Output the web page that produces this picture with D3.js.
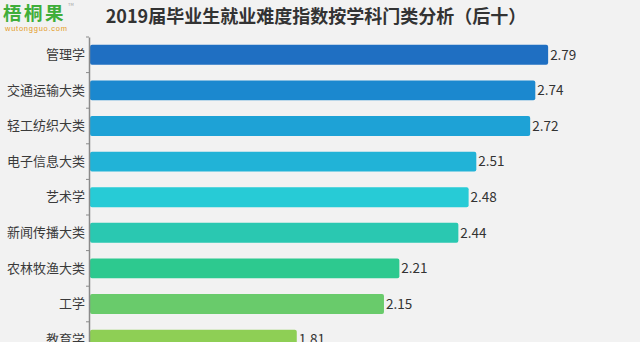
<!DOCTYPE html>
<html>
<head>
<meta charset="utf-8">
<script src="https://cdn.jsdelivr.net/npm/d3@7"></script>
<style>
  html, body { margin: 0; padding: 0; background: #f2f2f2; }
  svg { display: block; }
</style>
</head>
<body>
<svg id="chart" width="640" height="342"></svg>
<script>
// Graduate employment-difficulty index by discipline (bottom ten)
const categories = ["管理学", "交通运输大类", "轻工纺织大类", "电子信息大类", "艺术学", "新闻传播大类", "农林牧渔大类", "工学", "教育学"];
const values = [2.79, 2.74, 2.72, 2.51, 2.48, 2.44, 2.21, 2.15, 1.81];
const barColors = ["#1f6fc2", "#1b88cf", "#1ea2d6", "#21b3d7", "#27cbd6", "#2ac8b1", "#2dc98f", "#69cb6b", "#8ecf55"];

const W = 640, H = 342;
const svg = d3.select("#chart").attr("width", W).attr("height", H);
svg.append("rect").attr("width", W).attr("height", H).attr("fill", "#f2f2f2");

const font = "'Microsoft YaHei', 'Noto Sans CJK SC', sans-serif";

// Brand mark
const logo = svg.append("g");
logo.append("text").attr("x", 3).attr("y", 19.5)
  .attr("font-family", font).attr("font-weight", "bold").attr("font-size", 18.5)
  .attr("fill", "#3fae3a").attr("letter-spacing", 2.5).text("梧桐果");
logo.append("text").attr("x", 68).attr("y", 6)
  .attr("font-family", font).attr("font-size", 4).attr("fill", "#9a9a9a").text("TM");
logo.append("text").attr("x", 5).attr("y", 30.5)
  .attr("font-family", "Arial, 'Liberation Sans', sans-serif").attr("font-size", 7.5)
  .attr("fill", "#e49a22").attr("textLength", 62).text("wutongguo.com");

// Title
svg.append("text").attr("x", 316).attr("y", 23).attr("text-anchor", "middle")
  .attr("font-family", font).attr("font-weight", "bold").attr("font-size", 18)
  .attr("fill", "#333").text("2019届毕业生就业难度指数按学科门类分析（后十）");

// Scales
const x = d3.scaleLinear().domain([1, 3]).range([89, 602]);
const y = d3.scaleBand().domain(categories).range([37, 37 + 35.6 * categories.length]).paddingInner(0.44).paddingOuter(0.22);

// Bars
svg.append("g").selectAll("rect").data(categories).join("rect")
  .attr("x", x(1) + 1)
  .attr("y", d => y(d))
  .attr("width", (d, i) => x(values[i]) - x(1) - 1)
  .attr("height", y.bandwidth())
  .attr("rx", 2)
  .attr("fill", (d, i) => barColors[i]);

// Value labels
svg.append("g").selectAll("text").data(categories).join("text")
  .attr("x", (d, i) => x(values[i]) + 2)
  .attr("y", d => y(d) + y.bandwidth() / 2)
  .attr("dy", "0.35em")
  .attr("font-family", font).attr("font-size", 13.5).attr("fill", "#333")
  .text((d, i) => values[i].toFixed(2));

// Category axis
const axis = svg.append("g").attr("transform", `translate(${x(1)},0)`)
  .call(d3.axisLeft(y).tickSize(0).tickPadding(4));
axis.select(".domain").attr("stroke", "#8a8a8a").attr("stroke-width", 1.5);
axis.selectAll("text").attr("font-family", font).attr("font-size", 13).attr("fill", "#3a3a3a");
// small marks between the bands
const step = y.step();
const bounds = d3.range(categories.length + 1).map(i => y.range()[0] + i * step);
axis.selectAll("line.sep").data(bounds).join("line").attr("class", "sep")
  .attr("x1", -3).attr("x2", 0).attr("y1", d => d).attr("y2", d => d)
  .attr("stroke", "#8a8a8a");
</script>
</body>
</html>
